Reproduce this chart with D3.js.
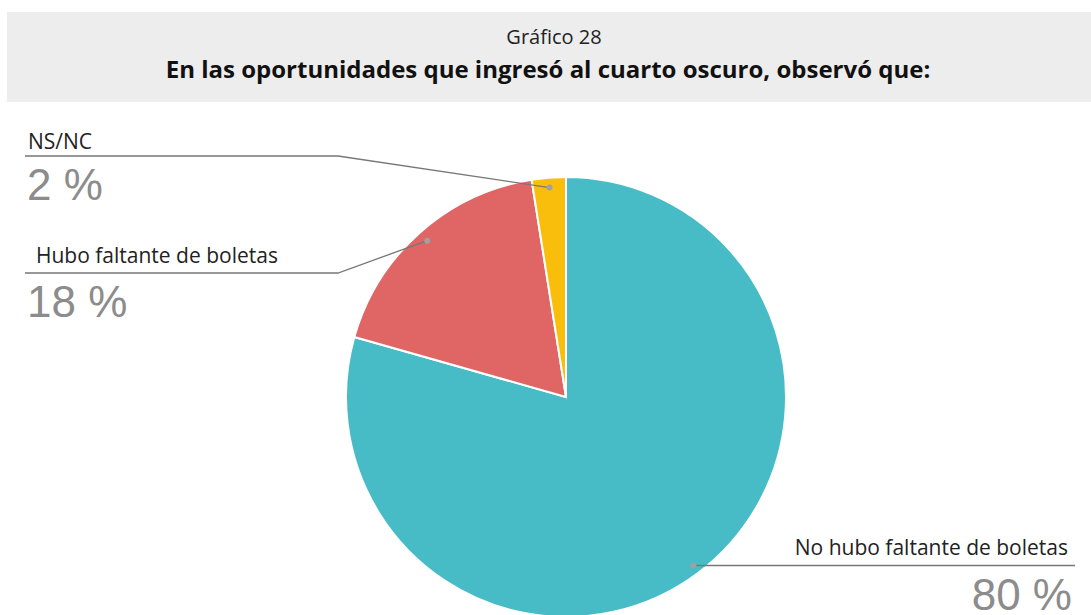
<!DOCTYPE html>
<html><head><meta charset="utf-8">
<script src="https://cdn.jsdelivr.net/npm/d3@7"></script>
<style>body{margin:0;background:#fff}svg{display:block}</style>
</head><body>
<svg id="c" width="1091" height="615"></svg>
<script>
const categories = ["No hubo faltante de boletas", "Hubo faltante de boletas", "NS/NC"];
const values = [79.4, 18.1, 2.5];
const valueLabels = ["80 %", "18 %", "2 %"];
const colors = ["#47BCC7", "#E06666", "#F9BE0C"];
const subtitle = "Gráfico 28";
const title = "En las oportunidades que ingresó al cuarto oscuro, observó que:";

const svg = d3.select("#c");
const W = 1091, H = 615;

// header band
svg.append("rect").attr("x", 7).attr("y", 12).attr("width", W - 7).attr("height", 90).attr("fill", "#ededed");
svg.append("text").attr("x", 554).attr("y", 44).attr("text-anchor", "middle")
  .attr("font-family", "Open Sans").attr("font-size", 20).attr("fill", "#222").text(subtitle);
svg.append("text").attr("x", 548).attr("y", 78).attr("text-anchor", "middle")
  .attr("font-family", "Open Sans").attr("font-weight", "bold").attr("font-size", 24).attr("fill", "#111").text(title);

// pie
const cx = 566, cy = 397, R = 220;
const pie = d3.pie().sort(null).value(d => d)(values);
const arc = d3.arc().innerRadius(0).outerRadius(R);
const g = svg.append("g").attr("transform", `translate(${cx},${cy})`);
g.selectAll("path").data(pie).join("path")
  .attr("d", arc).attr("fill", (d, i) => colors[i])
  .attr("stroke", "#fff").attr("stroke-width", 2);

// anchor dot at each slice's mid-angle, near the rim
function dotPos(i, frac) {
  const a = (pie[i].startAngle + pie[i].endAngle) / 2;
  return [cx + Math.sin(a) * R * frac, cy - Math.cos(a) * R * frac];
}
const lineColor = "#777";
const dotColor = "#a0a0a0";
const labelFont = 21;

// NS/NC (index 2)
{
  const p = dotPos(2, 0.955);
  svg.append("polyline").attr("points", `25,156 338,156 ${p[0]},${p[1]}`)
    .attr("fill", "none").attr("stroke", lineColor).attr("stroke-width", 1.3);
  svg.append("circle").attr("cx", p[0]).attr("cy", p[1]).attr("r", 3).attr("fill", dotColor);
  svg.append("text").attr("x", 28).attr("y", 149).attr("font-family", "Open Sans").attr("font-size", labelFont).attr("fill", "#222").text(categories[2]);
  svg.append("text").attr("x", 27).attr("y", 200).attr("font-family", "Liberation Sans").attr("font-size", 44).attr("fill", "#8c8c8c").text(valueLabels[2]);
}
// Hubo (index 1)
{
  const p = dotPos(1, 0.95);
  svg.append("polyline").attr("points", `25,273 338,273 ${p[0]},${p[1]}`)
    .attr("fill", "none").attr("stroke", lineColor).attr("stroke-width", 1.3);
  svg.append("circle").attr("cx", p[0]).attr("cy", p[1]).attr("r", 3).attr("fill", dotColor);
  svg.append("text").attr("x", 36).attr("y", 263).attr("font-family", "Open Sans").attr("font-size", labelFont).attr("fill", "#222").text(categories[1]);
  svg.append("text").attr("x", 27).attr("y", 317).attr("font-family", "Liberation Sans").attr("font-size", 44).attr("fill", "#8c8c8c").text(valueLabels[1]);
}
// No hubo (index 0)
{
  const p = dotPos(0, 0.96);
  svg.append("line").attr("x1", p[0]).attr("y1", p[1]).attr("x2", 1075).attr("y2", p[1])
    .attr("stroke", lineColor).attr("stroke-width", 1.3);
  svg.append("circle").attr("cx", p[0]).attr("cy", p[1]).attr("r", 3).attr("fill", dotColor);
  svg.append("text").attr("x", 1068).attr("y", 555).attr("text-anchor", "end").attr("font-family", "Open Sans").attr("font-size", labelFont).attr("fill", "#222").text(categories[0]);
  svg.append("text").attr("x", 1072).attr("y", 610).attr("text-anchor", "end").attr("font-family", "Liberation Sans").attr("font-size", 44).attr("fill", "#8c8c8c").text(valueLabels[0]);
}
</script>
</body></html>
